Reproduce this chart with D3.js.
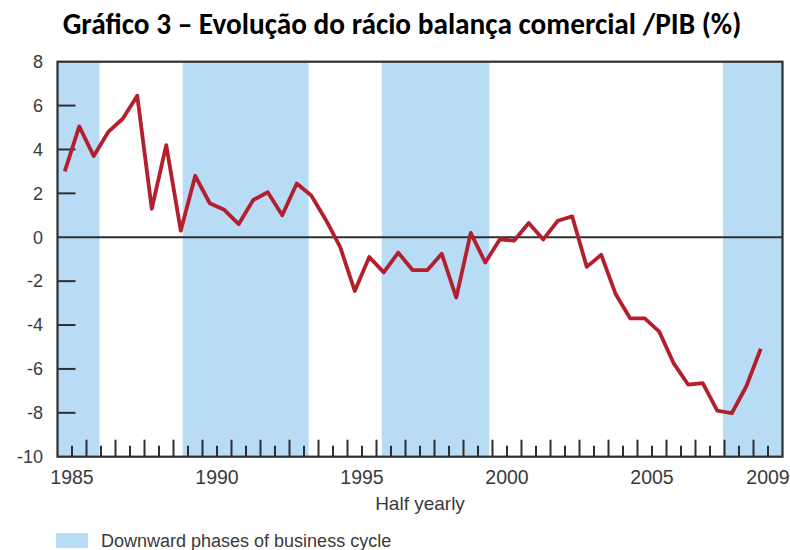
<!DOCTYPE html>
<html>
<head>
<meta charset="utf-8">
<script src="https://cdn.jsdelivr.net/npm/d3@7"></script>
<style>
  html, body { margin: 0; padding: 0; background: #ffffff; }
  svg { display: block; }
</style>
</head>
<body>
<svg id="chart" width="790" height="550"></svg>
<script>
// ---------- DATA ----------
const startYear = 1985;
// half-yearly balance / GDP (%), 1985 H1 ... 2009 H1
const values = [
  3.0, 5.05, 3.7, 4.8, 5.4, 6.45, 1.3, 4.2, 0.3, 2.8,
  1.55, 1.25, 0.6, 1.7, 2.05, 1.0, 2.45, 1.9, 0.8, -0.45,
  -2.45, -0.9, -1.6, -0.7, -1.5, -1.5, -0.75, -2.75, 0.2, -1.15,
  -0.1, -0.15, 0.65, -0.1, 0.75, 0.95, -1.35, -0.8, -2.6, -3.7,
  -3.7, -4.3, -5.75, -6.72, -6.65, -7.9, -8.02, -6.8, -5.08
];
const downPhases = [
  [1985.0, 1986.45],
  [1989.32, 1993.66],
  [1996.18, 1999.89],
  [2007.95, 2010.0]
];
const yTicks = [8, 6, 4, 2, 0, -2, -4, -6, -8, -10];
const xLabels = ["1985", "1990", "1995", "2000", "2005", "2009"];
const titleText = "Gráfico 3 – Evolução do rácio balança comercial /PIB (%)";
const xAxisTitle = "Half yearly";
const legendText = "Downward phases of business cycle";

// ---------- LAYOUT ----------
const svg = d3.select("#chart");
const L = 57.5, R = 782.5, T = 61.7, B = 456.7;
const x = d3.scaleLinear().domain([1985, 2010]).range([L, R]);
const y = d3.scaleLinear().domain([-10, 8]).range([B, T]);
const dark = "#2e2e2e";
const txt = "#3a3a3a";
const bandColor = "#b8dcf5";
const lineColor = "#b31f2c";
const font = "'Liberation Sans', Arial, Helvetica, sans-serif";

// title
svg.append("text")
  .attr("x", 402).attr("y", 34)
  .attr("text-anchor", "middle")
  .attr("font-family", "Carlito, 'Open Sans', 'Liberation Sans', Arial, sans-serif")
  .attr("font-weight", "bold")
  .attr("font-size", 29.3)
  .attr("fill", "#000")
  .text(titleText);

// bands
svg.append("g").selectAll("rect").data(downPhases).join("rect")
  .attr("x", d => x(d[0]))
  .attr("width", d => x(d[1]) - x(d[0]))
  .attr("y", T).attr("height", B - T)
  .attr("fill", bandColor);

// y ticks (inner)
svg.append("g").selectAll("line").data(yTicks.filter(v => v !== 8 && v !== 0 && v !== -10)).join("line")
  .attr("x1", L).attr("x2", L + 18)
  .attr("y1", d => y(d)).attr("y2", d => y(d))
  .attr("stroke", dark).attr("stroke-width", 2);

// y labels
svg.append("g").selectAll("text").data(yTicks).join("text")
  .attr("x", 43).attr("y", d => y(d))
  .attr("dy", "0.35em")
  .attr("text-anchor", "end")
  .attr("font-family", font).attr("font-size", 18)
  .attr("fill", txt)
  .text(d => d);

// x ticks: tall at year boundaries, short at mid-year
const tall = d3.range(1986, 2010);
const short = d3.range(1985, 2010).map(v => v + 0.5);
svg.append("g").selectAll("line").data(tall).join("line")
  .attr("x1", d => x(d)).attr("x2", d => x(d))
  .attr("y1", B).attr("y2", B - 17)
  .attr("stroke", dark).attr("stroke-width", 2);
svg.append("g").selectAll("line").data(short).join("line")
  .attr("x1", d => x(d)).attr("x2", d => x(d))
  .attr("y1", B).attr("y2", B - 11)
  .attr("stroke", dark).attr("stroke-width", 2);

// x labels (centred in the year)
svg.append("g").selectAll("text").data(xLabels).join("text")
  .attr("x", d => x(+d + 0.5)).attr("y", 484)
  .attr("text-anchor", "middle")
  .attr("font-family", font).attr("font-size", 19.5)
  .attr("fill", txt)
  .text(d => d);

// zero line
svg.append("line")
  .attr("x1", L).attr("x2", R)
  .attr("y1", y(0)).attr("y2", y(0))
  .attr("stroke", dark).attr("stroke-width", 2);

// frame
svg.append("rect")
  .attr("x", L).attr("y", T).attr("width", R - L).attr("height", B - T)
  .attr("fill", "none").attr("stroke", dark).attr("stroke-width", 2.2);

// data line
const pts = values.map((v, i) => [startYear + 0.25 + i * 0.5, v]);
svg.append("path")
  .datum(pts)
  .attr("fill", "none")
  .attr("stroke", lineColor)
  .attr("stroke-width", 3.8)
  .attr("stroke-linejoin", "round")
  .attr("d", d3.line().x(d => x(d[0])).y(d => y(d[1])));

// axis title
svg.append("text")
  .attr("x", 420).attr("y", 510)
  .attr("text-anchor", "middle")
  .attr("font-family", font).attr("font-size", 19)
  .attr("fill", txt)
  .text(xAxisTitle);

// legend
svg.append("rect")
  .attr("x", 56).attr("y", 533).attr("width", 32).attr("height", 15)
  .attr("fill", bandColor);
svg.append("text")
  .attr("x", 101).attr("y", 547)
  .attr("font-family", font).attr("font-size", 18)
  .attr("fill", txt)
  .text(legendText);
</script>
</body>
</html>
